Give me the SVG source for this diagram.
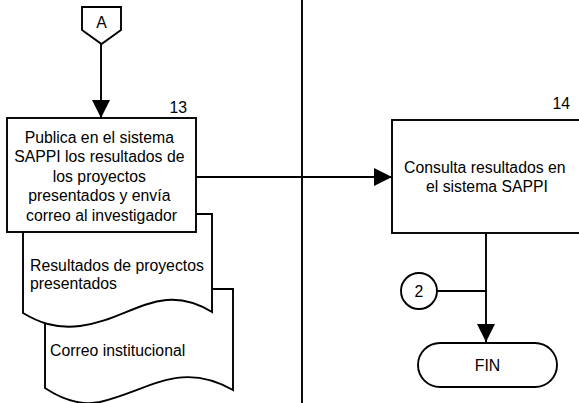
<svg xmlns="http://www.w3.org/2000/svg" width="579" height="403" viewBox="0 0 579 403">
<style>
.s{fill:#fff;stroke:#000;stroke-width:1.9}
.l{fill:none;stroke:#000;stroke-width:1.9}
.t{font-family:"Liberation Sans",Arial,sans-serif;font-size:15.8px;fill:#000}
.c{text-anchor:middle}
</style>
<defs>
<marker id="ah" viewBox="0 0 10 10" refX="10" refY="5" markerWidth="18" markerHeight="18" markerUnits="userSpaceOnUse" orient="auto">
<path d="M0,0 L10,5 L0,10 Z" fill="#000"/>
</marker>
</defs>
<line x1="302" y1="0" x2="302" y2="403" class="l"/>
<g id="connectors">
<line x1="101" y1="44" x2="101" y2="118" class="l" marker-end="url(#ah)"/>
<line x1="196" y1="177" x2="392" y2="177" class="l" marker-end="url(#ah)"/>
<line x1="486" y1="233" x2="486" y2="342" class="l" marker-end="url(#ah)"/>
<line x1="437" y1="291" x2="486" y2="291" class="l" stroke-width="1.3"/>
</g>
<g id="offpage-A">
<path d="M82,7 L121,7 L121,30 L101.5,44 L82,30 Z" class="s"/>
<text x="101.5" y="27.5" class="t c">A</text>
</g>
<g id="doc-correo">
<path d="M45,289 L233,289 L233,390 C180,360 150,390 100,402 C80,406 60,398 45,388 Z" class="s"/>
<text x="50" y="355.5" class="t">Correo institucional</text>
</g>
<g id="doc-resultados">
<path d="M23,214 L212,214 L212,312 C160,280 130,320 80,326 C55,329 38,322 23,313 Z" class="s"/>
<text x="30" y="270.5" class="t">Resultados de proyectos</text>
<text x="30" y="288.5" class="t">presentados</text>
</g>
<g id="node-13">
<rect x="7" y="118" width="189" height="114" class="s"/>
<text x="187" y="112.5" class="t" text-anchor="end">13</text>
<text class="t c">
<tspan x="101.5" y="142.5">Publica en el sistema</tspan>
<tspan x="101.5" y="162">SAPPI los resultados de</tspan>
<tspan x="101.5" y="181.5">los proyectos</tspan>
<tspan x="101.5" y="201">presentados y envía</tspan>
<tspan x="101.5" y="220.5">correo al investigador</tspan>
</text>
</g>
<g id="node-14">
<rect x="392" y="120" width="192" height="113" class="s"/>
<text x="570" y="108.5" class="t" text-anchor="end">14</text>
<text class="t c">
<tspan x="487" y="172.5">Consulta resultados en</tspan>
<tspan x="487" y="192">el sistema SAPPI</tspan>
</text>
</g>
<g id="conn-2">
<circle cx="419" cy="291" r="18" class="s"/>
<text x="419" y="296.5" class="t c">2</text>
</g>
<g id="fin">
<rect x="418" y="343" width="139" height="44" rx="22" ry="22" class="s"/>
<text x="487.5" y="370.5" class="t c">FIN</text>
</g>
</svg>
